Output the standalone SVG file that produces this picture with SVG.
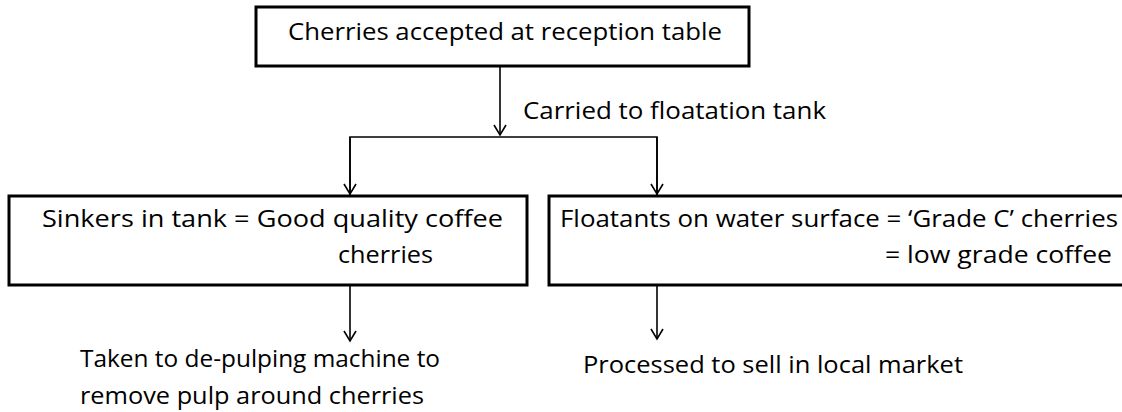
<svg xmlns="http://www.w3.org/2000/svg" width="1122" height="412" viewBox="0 0 1122 412">
<defs>
<marker id="arr" markerWidth="14" markerHeight="14" refX="12" refY="7" orient="auto" markerUnits="userSpaceOnUse" viewBox="0 0 14 14">
<path d="M2,1 L12,7 L2,13" fill="none" stroke="#000" stroke-width="1.6"/>
</marker>
</defs>
<style>
.box{fill:#fff;stroke:#000;stroke-width:3}
.t{font-family:"Open Sans","Liberation Sans",sans-serif;font-size:24px;fill:#000}
.c{fill:none;stroke:#000;stroke-width:1.6}
</style>
<rect width="1122" height="412" fill="#fff"/>
<g id="connectors">
<line class="c" x1="500" y1="66" x2="500" y2="135" marker-end="url(#arr)"/>
<polyline class="c" points="350,195 350,137 657,137 657,195"/>
<line class="c" x1="350" y1="137" x2="350" y2="194" marker-end="url(#arr)"/>
<line class="c" x1="657" y1="137" x2="657" y2="194" marker-end="url(#arr)"/>
<line class="c" x1="350" y1="286" x2="350" y2="341" marker-end="url(#arr)"/>
<line class="c" x1="657" y1="286" x2="657" y2="339" marker-end="url(#arr)"/>
<text class="t" x="523" y="119" textLength="303" lengthAdjust="spacingAndGlyphs">Carried to floatation tank</text>
</g>
<g id="top">
<rect class="box" x="256" y="7" width="493" height="59"/>
<text class="t" x="288" y="40" textLength="434" lengthAdjust="spacingAndGlyphs">Cherries accepted at reception table</text>
</g>
<g id="sinkers">
<rect class="box" x="9" y="196" width="518" height="89"/>
<text class="t" x="42" y="227" textLength="461" lengthAdjust="spacingAndGlyphs">Sinkers in tank = Good quality coffee</text>
<text class="t" x="338" y="263" textLength="95" lengthAdjust="spacingAndGlyphs">cherries</text>
</g>
<g id="floatants">
<rect class="box" x="549" y="196" width="580" height="89"/>
<text class="t" x="560" y="227" textLength="558" lengthAdjust="spacingAndGlyphs">Floatants on water surface = ‘Grade C’ cherries</text>
<text class="t" x="885" y="263" textLength="227" lengthAdjust="spacingAndGlyphs">=  low grade coffee</text>
</g>
<g id="depulp">
<text class="t" x="80" y="367" textLength="360" lengthAdjust="spacingAndGlyphs">Taken to de-pulping machine to</text>
<text class="t" x="80" y="404" textLength="344" lengthAdjust="spacingAndGlyphs">remove pulp around cherries</text>
</g>
<g id="local">
<text class="t" x="583" y="373" textLength="380" lengthAdjust="spacingAndGlyphs">Processed to sell in local market</text>
</g>
</svg>
